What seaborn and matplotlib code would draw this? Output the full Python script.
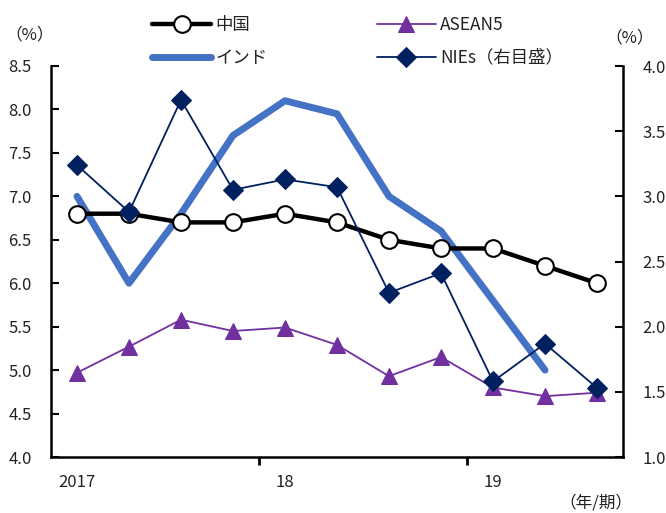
import matplotlib
matplotlib.use("Agg")
import matplotlib.pyplot as plt
import numpy as np
import pandas as pd
import seaborn as sns

# Quarterly real GDP growth (y/y, %), 2017Q1 - 2019Q3
quarters = ["2017Q1", "2017Q2", "2017Q3", "2017Q4",
            "2018Q1", "2018Q2", "2018Q3", "2018Q4",
            "2019Q1", "2019Q2", "2019Q3"]
year_labels = ["2017", "18", "19"]

china = [6.8, 6.8, 6.7, 6.7, 6.8, 6.7, 6.5, 6.4, 6.4, 6.2, 6.0]
india = [7.0, 6.0, 6.8, 7.7, 8.1, 7.95, 7.0, 6.6, 5.8, 5.0, np.nan]
asean5 = [4.97, 5.27, 5.58, 5.45, 5.49, 5.29, 4.93, 5.15, 4.80, 4.70, 4.74]
nies = [3.24, 2.88, 3.74, 3.05, 3.13, 3.07, 2.26, 2.41, 1.58, 1.87, 1.53]  # right axis

df = pd.DataFrame({"q": np.arange(len(quarters)), "quarter": quarters,
                   "china": china, "india": india,
                   "asean5": asean5, "nies": nies})

sns.set_style("ticks")
plt.rcParams["font.family"] = ["Noto Sans CJK JP", "DejaVu Sans"]
plt.rcParams["font.size"] = 12
text_color = "#222222"

fig = plt.figure(figsize=(6.66, 5.13), dpi=100)
ax = fig.add_axes([51 / 666, 1 - 457 / 513, (623 - 51) / 666, (457 - 66) / 513])
ax2 = ax.twinx()

col_india = "#4472C4"
col_asean = "#7030A0"
col_nies = "#002060"

sns.lineplot(data=df, x="q", y="india", ax=ax, color=col_india, lw=5,
             solid_capstyle="round", solid_joinstyle="round",
             label="インド", zorder=2)
sns.lineplot(data=df, x="q", y="asean5", ax=ax, color=col_asean, lw=1.3,
             marker="^", ms=12, mfc=col_asean, mec=col_asean,
             label="ASEAN5", zorder=3)
sns.lineplot(data=df, x="q", y="china", ax=ax, color="black", lw=3.2,
             marker="o", ms=12, mfc="white", mec="black", mew=1.5,
             label="中国", zorder=4)
sns.lineplot(data=df, x="q", y="nies", ax=ax2, color=col_nies, lw=1.3,
             marker="D", ms=10, mfc=col_nies, mec=col_nies,
             label="NIEs（右目盛）", zorder=5)

h1, l1 = ax.get_legend_handles_labels()
h2, l2 = ax2.get_legend_handles_labels()
ax.get_legend().remove()
ax2.get_legend().remove()
hmap = dict(zip(l1 + l2, h1 + h2))
order = ["中国", "インド", "ASEAN5", "NIEs（右目盛）"]
fig.legend([hmap[k] for k in order], order, ncol=2, frameon=False,
           loc="upper left", bbox_to_anchor=(152 / 666, 1 - 16 / 513),
           handlelength=3.4, handletextpad=0.25, columnspacing=6.3,
           labelspacing=0.85, borderpad=0, borderaxespad=0,
           fontsize=12.5, labelcolor=text_color)

# axes limits and ticks
n = len(quarters)
ax.set_xlim(-0.5, n - 0.5)
ax.set_ylim(4.0, 8.5)
ax2.set_ylim(1.0, 4.0)
ax.set_yticks(np.arange(4.0, 8.51, 0.5))
ax2.set_yticks(np.arange(1.0, 4.01, 0.5))
ax.set_yticklabels([f"{v:.1f}" for v in np.arange(4.0, 8.51, 0.5)])
ax2.set_yticklabels([f"{v:.1f}" for v in np.arange(1.0, 4.01, 0.5)])

ax.set_xticks([0, 4, 8])
ax.set_xticklabels(year_labels)
ax.set_xticks([3.5, 7.5], minor=True)
ax.tick_params(axis="x", which="major", length=0, pad=12, colors=text_color)
ax.tick_params(axis="x", which="minor", length=6, width=2, direction="out",
               color="black")
ax.tick_params(axis="y", length=6, width=1.5, direction="in", pad=14,
               colors=text_color)
ax2.tick_params(axis="y", length=6, width=1.5, direction="in", pad=14,
                colors=text_color)
for a in (ax, ax2):
    a.tick_params(axis="y", color="black")
    a.set_xlabel("")
    a.set_ylabel("")
    for s in a.spines.values():
        s.set_color("black")
        s.set_linewidth(1.8)
    a.spines["top"].set_visible(False)
ax.spines["right"].set_visible(False)
ax2.spines["left"].set_visible(False)
ax2.spines["bottom"].set_visible(False)
ax.grid(False)
ax2.grid(False)

fig.text(30 / 666, 1 - 35 / 513, "（%）", ha="center", va="center",
         fontsize=12, color=text_color)
fig.text(630 / 666, 1 - 38 / 513, "（%）", ha="center", va="center",
         fontsize=12, color=text_color)
fig.text(632 / 666, 1 - 503 / 513, "（年/期）", ha="right", va="center",
         fontsize=12, color=text_color)

fig.savefig("out.png", dpi=100)
